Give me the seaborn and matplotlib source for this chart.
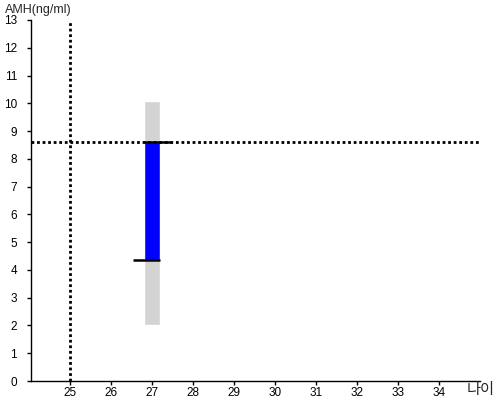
import matplotlib
matplotlib.use("Agg")
import matplotlib.pyplot as plt
import seaborn as sns

# data
age = 27
range_low, range_high = 2.0, 10.08      # grey reference range
iqr_low, iqr_high = 4.35, 8.6           # blue band
ref_age = 25
ref_amh = 8.6
x_ticks = list(range(25, 35))
y_ticks = list(range(0, 14))

sns.set_theme(style="white")
plt.rcParams['font.family'] = ['Liberation Sans', 'Noto Sans CJK KR', 'DejaVu Sans']

fig = plt.figure(figsize=(5, 4), dpi=100)
ax = fig.add_axes([0.062, 0.0475, 0.898, 0.9025])

ax.bar(age, range_high - range_low, bottom=range_low, width=0.39,
       color="#d3d3d3", zorder=1)
ax.bar(age, iqr_high - iqr_low, bottom=iqr_low, width=0.39,
       color="#0000ff", zorder=2)
ax.hlines(iqr_high, age - 0.195, age + 0.47, color="black", lw=1.8, zorder=3)
ax.hlines(iqr_low, age - 0.47, age + 0.195, color="black", lw=1.8, zorder=3)

ax.axvline(ref_age, color="black", ls=(0, (1, 1)), lw=2, zorder=4)
ax.axhline(ref_amh, color="black", ls=(0, (1, 1)), lw=2, zorder=4)

ax.set_xlim(24.05, 35)
ax.set_ylim(0, 13)
ax.set_xticks(x_ticks)
ax.set_yticks(y_ticks)
ax.tick_params(axis="both", which="both", direction="out", length=3,
               width=1, colors="black", labelsize=8.5,
               bottom=True, left=True)
ax.tick_params(axis="x", pad=1.5)
ax.tick_params(axis="y", pad=7)
sns.despine(ax=ax)
for s in ["left", "bottom"]:
    ax.spines[s].set_color("black")
    ax.spines[s].set_linewidth(1)

fig.text(0.01, 0.975, "AMH(ng/ml)", fontsize=9, ha="left", va="center")
fig.text(0.99, 0.004, "나이", fontsize=11, ha="right", va="bottom",
         family=['Noto Sans CJK KR', 'DejaVu Sans'])

fig.savefig("out.png", dpi=100)
